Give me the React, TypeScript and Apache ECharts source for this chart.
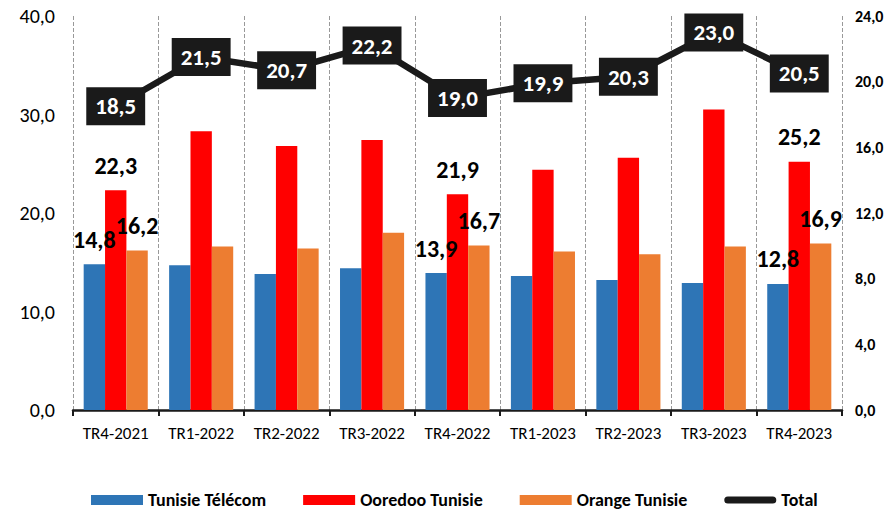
import React, { useEffect, useRef } from "react";
import * as echarts from "echarts";

const categories = ["TR4-2021", "TR1-2022", "TR2-2022", "TR3-2022", "TR4-2022", "TR1-2023", "TR2-2023", "TR3-2023", "TR4-2023"];
const tunisieTelecom = [14.8, 14.7, 13.8, 14.4, 13.9, 13.6, 13.2, 12.9, 12.8];
const ooredoo = [22.3, 28.3, 26.8, 27.4, 21.9, 24.4, 25.6, 30.5, 25.2];
const orange = [16.2, 16.6, 16.4, 18.0, 16.7, 16.1, 15.8, 16.6, 16.9];
const total = [18.5, 21.5, 20.7, 22.2, 19.0, 19.9, 20.3, 23.0, 20.5];
const labeledIndexes = [0, 4, 8];

const fmt = (v: number) => v.toFixed(1).replace(".", ",");
const FONT = "Carlito, 'Liberation Sans', Arial, sans-serif";

function barData(values: number[]) {
  return values.map((v, i) => ({
    value: v,
    label: { show: labeledIndexes.includes(i) },
  }));
}

export default function App() {
  const ref = useRef<HTMLDivElement>(null);
  useEffect(() => {
    if (!ref.current) return;
    const chart = echarts.init(ref.current, undefined, { renderer: "svg" });
    const barLabel = {
      position: "top",
      distance: 13,
      fontFamily: FONT,
      fontWeight: "bold",
      fontSize: 24,
      lineHeight: 24,
      color: "#000",
      formatter: (p: any) => fmt(p.value),
    };
    chart.setOption({
      animation: false,
      grid: { left: 73, right: 45, top: 16, bottom: 103 },
      legend: {
        top: 491,
        left: 91,
        itemWidth: 52,
        itemHeight: 10,
        itemGap: 37,
        padding: 0,
        textStyle: { fontFamily: FONT, fontWeight: "bold", fontSize: 18, lineHeight: 18, color: "#000" },
        data: [
          { name: "Tunisie Télécom", icon: "rect" },
          { name: "Ooredoo Tunisie", icon: "rect" },
          { name: "Orange Tunisie", icon: "rect" },
          { name: "Total", icon: "path://M4,0 L54,0 A4,4 0 0 1 54,8 L4,8 A4,4 0 0 1 4,0 Z" },
        ],
      },
      xAxis: {
        type: "category",
        data: categories,
        axisLine: { show: true, lineStyle: { color: "#1a1a1a", width: 2.5 } },
        axisTick: { show: true, interval: 0, length: 6, lineStyle: { color: "#1a1a1a", width: 2 } },
        axisLabel: { interval: 0, fontFamily: FONT, fontSize: 17, color: "#000", margin: 15 },
        splitLine: { show: true, interval: 0, lineStyle: { type: "dashed", color: "#999", width: 1 } },
      },
      yAxis: [
        {
          type: "value",
          min: 0,
          max: 40,
          interval: 10,
          axisLine: { show: false },
          axisTick: { show: false },
          splitLine: { show: false },
          axisLabel: { fontFamily: FONT, fontSize: 20, color: "#000", margin: 18, formatter: fmt },
        },
        {
          type: "value",
          min: 0,
          max: 24,
          interval: 4,
          axisLine: { show: false },
          axisTick: { show: false },
          splitLine: { show: false },
          axisLabel: { fontFamily: FONT, fontSize: 16, fontWeight: "bold", color: "#000", margin: 13, formatter: fmt },
        },
      ],
      series: [
        {
          name: "Tunisie Télécom",
          type: "bar",
          data: barData(tunisieTelecom),
          itemStyle: { color: "#2E75B6" },
          barGap: "0%",
          barCategoryGap: "25%",
          label: barLabel,
        },
        {
          name: "Ooredoo Tunisie",
          type: "bar",
          data: barData(ooredoo),
          itemStyle: { color: "#FF0000" },
          barGap: "0%",
          barCategoryGap: "25%",
          label: barLabel,
        },
        {
          name: "Orange Tunisie",
          type: "bar",
          data: barData(orange),
          itemStyle: { color: "#ED7D31" },
          barGap: "0%",
          barCategoryGap: "25%",
          label: barLabel,
        },
        {
          name: "Total",
          type: "line",
          yAxisIndex: 1,
          data: total,
          symbol: "circle",
          symbolSize: 1,
          itemStyle: { color: "#1a1a1a" },
          lineStyle: { color: "#1a1a1a", width: 6.5 },
          z: 5,
          label: {
            show: true,
            position: "inside",
            backgroundColor: "#1a1a1a",
            color: "#fff",
            fontFamily: FONT,
            fontWeight: "bold",
            fontSize: 23,
            lineHeight: 23,
            padding: [8, 9, 7, 9],
            formatter: (p: any) => fmt(p.value),
          },
        },
      ],
    });
    return () => chart.dispose();
  }, []);
  return <div ref={ref} style={{ width: 887, height: 513, position: "absolute", left: 0, top: 0 }} />;
}
